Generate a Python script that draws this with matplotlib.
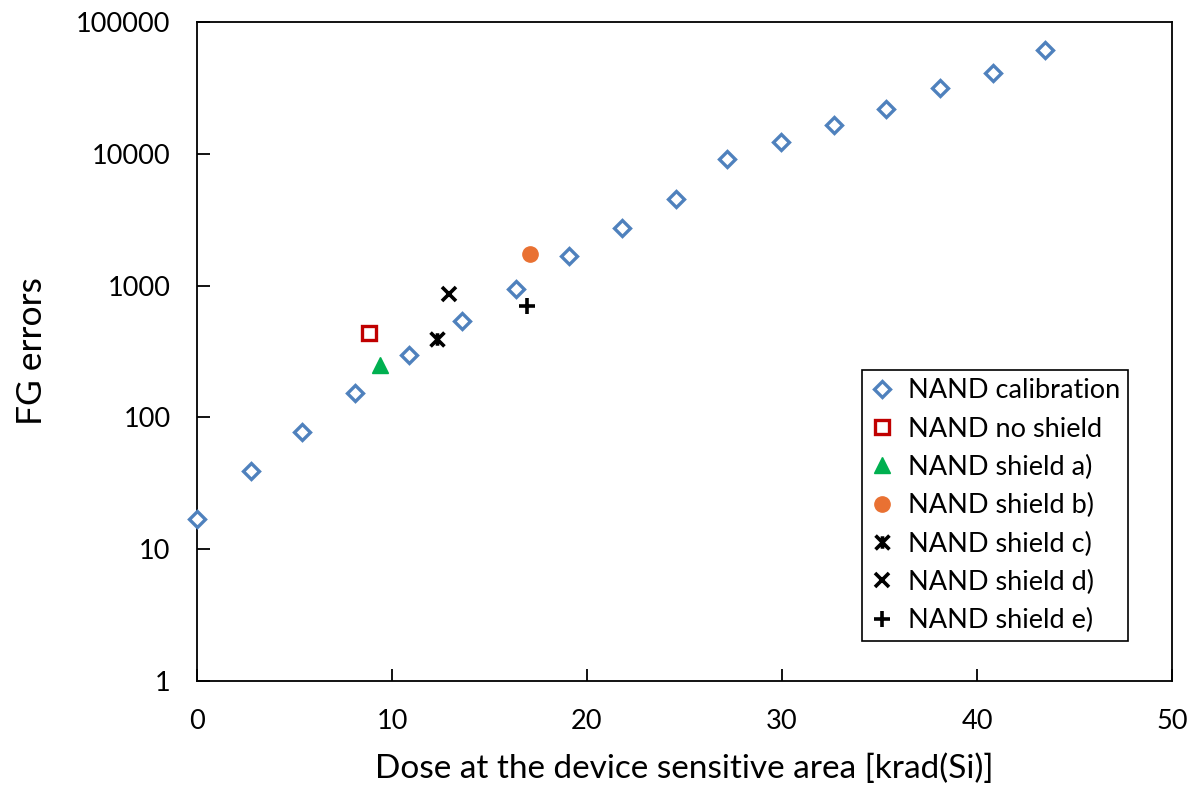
import numpy as np
import matplotlib.pyplot as plt
from matplotlib.path import Path
from matplotlib.ticker import FixedLocator, NullLocator

plt.rcParams['font.family'] = ['Lato', 'DejaVu Sans']

# NAND calibration series
cal_dose = [0.0, 2.75, 5.4, 8.1, 10.85, 13.6, 16.35, 19.1, 21.8, 24.55, 27.2,
            29.95, 32.65, 35.35, 38.1, 40.8, 43.5]
cal_err = [17, 39, 78, 152, 295, 540, 950, 1690, 2750, 4550, 9150,
           12300, 16600, 21900, 31500, 41000, 61000]

# single shielded / unshielded measurements
noshield_dose, noshield_err = [8.8], [435]
sha_dose, sha_err = [9.4], [250]
shb_dose, shb_err = [17.1], [1750]
shc_dose, shc_err = [12.3], [395]
shd_dose, shd_err = [12.9], [860]
she_dose, she_err = [16.9], [705]

y_ticks = [1, 10, 100, 1000, 10000, 100000]
y_labels = ['1', '10', '100', '1000', '10000', '100000']
x_ticks = [0, 10, 20, 30, 40, 50]

# x with a vertical bar, like the excel "*" marker
star = Path([(-1, -1), (1, 1), (-1, 1), (1, -1), (0, -0.9), (0, 0.9)],
            [Path.MOVETO, Path.LINETO, Path.MOVETO, Path.LINETO, Path.MOVETO, Path.LINETO])

fig = plt.figure(figsize=(11.92, 7.88), dpi=100)
ax = fig.add_axes([197/1192, (788-681)/788, (1172-197)/1192, (681-22)/788])

ax.plot(cal_dose, cal_err, 'D', ls='none', ms=7.8, mfc='white', mec='#4F81BD', mew=2.4,
        label='NAND calibration', clip_on=False, zorder=5)
ax.plot(noshield_dose, noshield_err, 's', ls='none', ms=10, mfc='white', mec='#C00000', mew=2.4,
        label='NAND no shield')
ax.plot(sha_dose, sha_err, '^', ls='none', ms=11, color='#00B050', label='NAND shield a)')
ax.plot(shb_dose, shb_err, 'o', ls='none', ms=11, color='#E97132', label='NAND shield b)')
ax.plot(shc_dose, shc_err, marker=star, ls='none', ms=10, mfc='none', mec='black', mew=2.6,
        label='NAND shield c)')
ax.plot(shd_dose, shd_err, 'x', ls='none', ms=10, color='black', mew=2.6, label='NAND shield d)')
ax.plot(she_dose, she_err, '+', ls='none', ms=11, color='black', mew=2.6, label='NAND shield e)')

ax.set_yscale('log')
ax.set_xlim(0, 50)
ax.set_ylim(1, 100000)
ax.yaxis.set_major_locator(FixedLocator(y_ticks))
ax.set_yticklabels(y_labels)
ax.yaxis.set_minor_locator(NullLocator())
ax.set_xticks(x_ticks)

for s in ax.spines.values():
    s.set_linewidth(1.3)
    s.set_color('black')
ax.tick_params(direction='in', length=9, width=1.3, labelsize=19.5)
ax.tick_params(axis='x', pad=20)
ax.tick_params(axis='y', pad=19)

ax.set_xlabel('Dose at the device sensitive area [krad(Si)]', fontsize=24, labelpad=14)
ax.set_ylabel('FG errors', fontsize=25.5, labelpad=20)

leg = ax.legend(loc='lower right', bbox_to_anchor=(0.955, 0.06), fontsize=19.5, frameon=True,
                fancybox=False, edgecolor='black', framealpha=1, handlelength=0.9,
                handletextpad=0.5, borderpad=0.3, labelspacing=0.49, borderaxespad=0)
leg.get_frame().set_linewidth(1.2)

fig.savefig('out.png', dpi=100)
